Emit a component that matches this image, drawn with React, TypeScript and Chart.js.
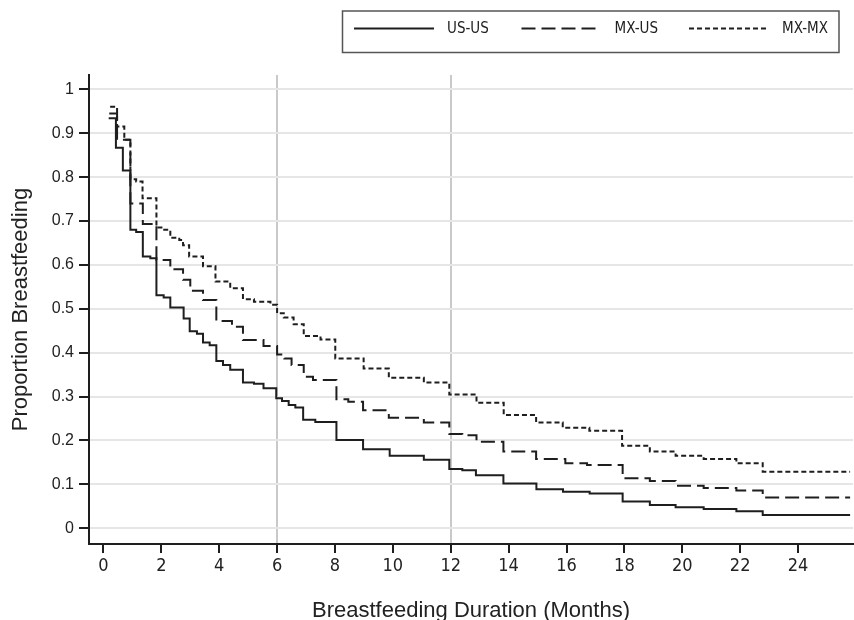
import { useEffect, useRef } from 'react';
import { Chart, registerables } from 'chart.js';

Chart.register(...registerables);

const seriesNames = ['US-US', 'MX-US', 'MX-MX'];

const usUsMonths = [0.18, 0.43, 0.67, 0.93, 1.13, 1.36, 1.62, 1.83, 2.08, 2.31, 2.77, 2.98, 3.23, 3.44, 3.67, 3.9, 4.13, 4.38, 4.82, 5.2, 5.53, 5.97, 6.17, 6.4, 6.63, 6.9, 7.32, 8.05, 8.97, 9.89, 11.07, 11.95, 12.4, 12.87, 13.82, 14.96, 15.88, 16.8, 17.94, 18.88, 19.77, 20.74, 21.87, 22.78, 25.8];
const usUsProportion = [0.934, 0.867, 0.815, 0.68, 0.675, 0.619, 0.615, 0.531, 0.526, 0.503, 0.478, 0.449, 0.443, 0.423, 0.417, 0.381, 0.372, 0.361, 0.332, 0.329, 0.319, 0.296, 0.29, 0.281, 0.275, 0.247, 0.242, 0.201, 0.18, 0.165, 0.156, 0.135, 0.132, 0.121, 0.102, 0.089, 0.083, 0.079, 0.061, 0.053, 0.048, 0.044, 0.039, 0.03, 0.03];

const mxUsMonths = [0.2, 0.47, 0.93, 1.36, 1.83, 2.31, 2.75, 3.0, 3.44, 3.9, 4.44, 4.82, 5.53, 6.0, 6.25, 6.5, 6.92, 7.24, 8.05, 8.46, 8.97, 9.86, 11.07, 11.95, 12.4, 12.89, 13.82, 14.95, 15.96, 16.71, 17.94, 18.88, 19.77, 20.74, 21.87, 22.78, 25.8];
const mxUsProportion = [0.945, 0.885, 0.74, 0.693, 0.611, 0.59, 0.566, 0.541, 0.52, 0.472, 0.459, 0.429, 0.415, 0.396, 0.387, 0.372, 0.345, 0.338, 0.294, 0.288, 0.269, 0.252, 0.241, 0.215, 0.212, 0.197, 0.175, 0.158, 0.148, 0.144, 0.114, 0.108, 0.097, 0.092, 0.086, 0.07, 0.07];

const mxMxMonths = [0.23, 0.47, 0.72, 0.93, 1.13, 1.35, 1.83, 2.1, 2.31, 2.62, 2.75, 2.96, 3.44, 3.87, 4.38, 4.82, 5.2, 5.77, 6.0, 6.23, 6.57, 6.92, 7.5, 8.01, 8.99, 9.86, 11.07, 11.95, 12.89, 13.83, 14.95, 15.87, 16.79, 17.92, 18.88, 19.77, 20.74, 21.87, 22.78, 25.8];
const mxMxProportion = [0.96, 0.915, 0.885, 0.795, 0.79, 0.752, 0.685, 0.68, 0.662, 0.657, 0.645, 0.619, 0.597, 0.562, 0.547, 0.522, 0.516, 0.509, 0.49, 0.48, 0.465, 0.438, 0.43, 0.387, 0.364, 0.343, 0.332, 0.305, 0.286, 0.258, 0.241, 0.229, 0.222, 0.188, 0.175, 0.165, 0.158, 0.148, 0.129, 0.129];

const xTickValues = [0, 2, 4, 6, 8, 10, 12, 14, 16, 18, 20, 22, 24];
const yTickValues = [0, 0.1, 0.2, 0.3, 0.4, 0.5, 0.6, 0.7, 0.8, 0.9, 1];
const referenceMonths = [6, 12];
const xAxisTitle = 'Breastfeeding Duration (Months)';
const yAxisTitle = 'Proportion Breastfeeding';

const LINE_COLOR = '#1e1e1e';
const TEXT_COLOR = '#222222';
const NARROW_FONT = '"Liberation Sans Narrow", "DejaVu Sans Condensed", sans-serif';
const SANS_FONT = '"Liberation Sans", Arial, sans-serif';

const toPoints = (xs: number[], ys: number[]) => xs.map((x, i) => ({ x, y: ys[i] }));

const boxLegend = {
  id: 'boxLegend',
  afterDraw(chart: any) {
    const ctx = chart.ctx as CanvasRenderingContext2D;
    ctx.save();
    ctx.strokeStyle = '#555555';
    ctx.lineWidth = 1.5;
    ctx.setLineDash([]);
    ctx.strokeRect(342.5, 11, 496.5, 41.5);
    const lineY = 28.5;
    chart.data.datasets.forEach((ds: any, i: number) => {
      const x0 = 354 + i * 167.5;
      ctx.beginPath();
      ctx.strokeStyle = LINE_COLOR;
      ctx.lineWidth = 2;
      ctx.setLineDash(ds.borderDash || []);
      ctx.moveTo(x0, lineY);
      ctx.lineTo(x0 + 80, lineY);
      ctx.stroke();
      ctx.setLineDash([]);
      ctx.fillStyle = TEXT_COLOR;
      ctx.font = `15px ${NARROW_FONT}`;
      ctx.textAlign = 'left';
      ctx.textBaseline = 'middle';
      ctx.fillText(ds.label, x0 + 93, lineY + 1);
    });
    ctx.restore();
  },
};

export default function App() {
  const canvasRef = useRef<HTMLCanvasElement | null>(null);

  useEffect(() => {
    if (!canvasRef.current) return;
    const chart = new Chart(canvasRef.current, {
      type: 'line',
      data: {
        datasets: [
          {
            label: seriesNames[0],
            data: toPoints(usUsMonths, usUsProportion),
            borderColor: LINE_COLOR,
            borderWidth: 2,
            borderDash: [],
            stepped: 'before',
            pointRadius: 0,
            fill: false,
          },
          {
            label: seriesNames[1],
            data: toPoints(mxUsMonths, mxUsProportion),
            borderColor: LINE_COLOR,
            borderWidth: 2,
            borderDash: [14, 6],
            stepped: 'before',
            pointRadius: 0,
            fill: false,
          },
          {
            label: seriesNames[2],
            data: toPoints(mxMxMonths, mxMxProportion),
            borderColor: LINE_COLOR,
            borderWidth: 2,
            borderDash: [5, 3],
            stepped: 'before',
            pointRadius: 0,
            fill: false,
          },
        ],
      },
      options: {
        animation: false,
        responsive: false,
        devicePixelRatio: 1,
        layout: { padding: { top: 75, right: 1, left: 0, bottom: 0 } },
        plugins: {
          legend: { display: false },
          tooltip: { enabled: false },
        },
        scales: {
          x: {
            type: 'linear',
            min: -0.5,
            max: 25.9,
            afterBuildTicks: (scale: any) => {
              scale.ticks = xTickValues.map((v) => ({ value: v }));
            },
            afterFit: (scale: any) => {
              scale.height = 76;
            },
            border: { display: true, color: LINE_COLOR, width: 2 },
            grid: {
              color: (c: any) => (c.tick && referenceMonths.includes(c.tick.value) ? '#c9c9c9' : 'rgba(0,0,0,0)'),
              lineWidth: 2,
              drawTicks: true,
              tickLength: 9,
              tickWidth: 2,
              tickColor: LINE_COLOR,
            },
            ticks: {
              padding: 3,
              color: TEXT_COLOR,
              font: { family: NARROW_FONT, size: 18 },
              maxRotation: 0,
              autoSkip: false,
              callback: (v: any) => String(v),
            },
            title: {
              display: true,
              text: xAxisTitle,
              color: TEXT_COLOR,
              font: { family: SANS_FONT, size: 22, lineHeight: 1 },
              padding: { top: 0, bottom: -2 },
            },
          },
          y: {
            type: 'linear',
            min: -0.0358,
            max: 1.0326,
            afterBuildTicks: (scale: any) => {
              scale.ticks = yTickValues.map((v) => ({ value: v }));
            },
            afterFit: (scale: any) => {
              scale.width = 89;
            },
            border: { display: true, color: LINE_COLOR, width: 2 },
            grid: {
              color: '#e6e6e6',
              lineWidth: 2,
              drawTicks: true,
              tickLength: 10,
              tickWidth: 2,
              tickColor: LINE_COLOR,
            },
            ticks: {
              padding: 5,
              color: TEXT_COLOR,
              font: { family: SANS_FONT, size: 16 },
              autoSkip: false,
              callback: (v: any) => String(v),
            },
            title: {
              display: true,
              text: yAxisTitle,
              color: TEXT_COLOR,
              font: { family: SANS_FONT, size: 22, lineHeight: 1 },
              padding: { top: 10, bottom: 0 },
            },
          },
        },
      },
      plugins: [boxLegend],
    } as any);
    return () => chart.destroy();
  }, []);

  return (
    <div style={{ position: 'absolute', left: 0, top: 0, width: 854, height: 620, overflow: 'hidden', background: '#ffffff' }}>
      <canvas ref={canvasRef} width={854} height={620} style={{ display: 'block', width: 854, height: 620 }} />
    </div>
  );
}
